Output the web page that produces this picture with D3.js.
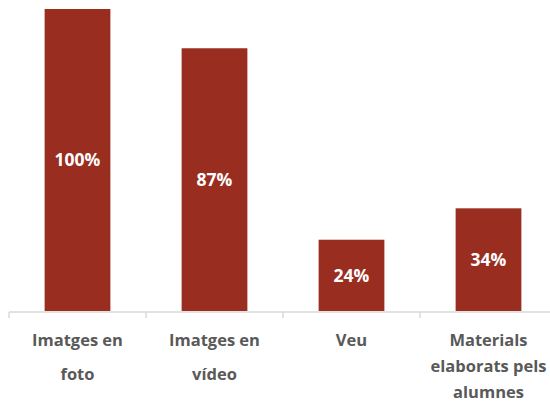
<!DOCTYPE html>
<html>
<head>
<meta charset="utf-8">
<style>
  body { margin: 0; background: #fff; }
  svg { display: block; }
</style>
</head>
<body>
<svg width="550" height="403"></svg>
<script src="https://d3js.org/d3.v7.min.js"></script>
<script>
// chart data
var categories = ["Imatges en foto", "Imatges en vídeo", "Veu", "Materials elaborats pels alumnes"];
var labelLines = [["Imatges en", "foto"], ["Imatges en", "vídeo"], ["Veu"], ["Materials", "elaborats pels", "alumnes"]];
var values = [100, 87, 23.6, 34];

var svg = d3.select("svg"),
    width = +svg.attr("width"),
    height = +svg.attr("height");

var baseY = 312;

var x = d3.scaleBand()
    .domain(categories)
    .range([9, 557])
    .paddingInner(0.52)
    .paddingOuter(0.26);

var y = d3.scaleLinear()
    .domain([0, 100])
    .range([311, 9]);

// bars
svg.append("g").selectAll("rect")
  .data(categories)
  .enter().append("rect")
    .attr("x", function(d) { return x(d); })
    .attr("y", function(d, i) { return y(values[i]); })
    .attr("width", x.bandwidth())
    .attr("height", function(d, i) { return y(0) - y(values[i]); })
    .attr("fill", "#992d20");

// value labels in the middle of each bar
svg.append("g").selectAll("text")
  .data(categories)
  .enter().append("text")
    .attr("x", function(d) { return x(d) + x.bandwidth() / 2; })
    .attr("y", function(d, i) { return (y(values[i]) + y(0)) / 2; })
    .attr("dy", "0.36em")
    .attr("text-anchor", "middle")
    .attr("fill", "#fff")
    .attr("font-family", "'Open Sans', sans-serif")
    .attr("font-weight", "bold")
    .attr("font-size", 17.5)
    .text(function(d, i) { return Math.round(values[i]) + "%"; });

// axis line + tick marks between categories
var step = x.step();
var tickXs = categories.map(function(d) { return x(d) - x.paddingOuter() * step; });
tickXs.push(tickXs[tickXs.length - 1] + step);

svg.append("line")
    .attr("x1", tickXs[0]).attr("x2", width)
    .attr("y1", baseY).attr("y2", baseY)
    .attr("stroke", "#d9d9d9")
    .attr("stroke-width", 1.5);

svg.append("g").selectAll("line")
  .data(tickXs)
  .enter().append("line")
    .attr("x1", function(d) { return d; })
    .attr("x2", function(d) { return d; })
    .attr("y1", baseY)
    .attr("y2", baseY + 6)
    .attr("stroke", "#d9d9d9")
    .attr("stroke-width", 1.5);

// category labels
var lab = svg.append("g").selectAll("text")
  .data(categories)
  .enter().append("text")
    .attr("text-anchor", "middle")
    .attr("fill", "#595959")
    .attr("font-family", "'Open Sans', sans-serif")
    .attr("font-weight", "bold")
    .attr("font-size", 16.5);

lab.each(function(d, i) {
  var lines = labelLines[i];
  var lh = lines.length === 3 ? 26 : 34;
  var t = d3.select(this);
  lines.forEach(function(s, j) {
    t.append("tspan")
      .attr("x", x(d) + x.bandwidth() / 2)
      .attr("y", 340 + j * lh)
      .attr("dy", "0.36em")
      .text(s);
  });
});
</script>
</body>
</html>
